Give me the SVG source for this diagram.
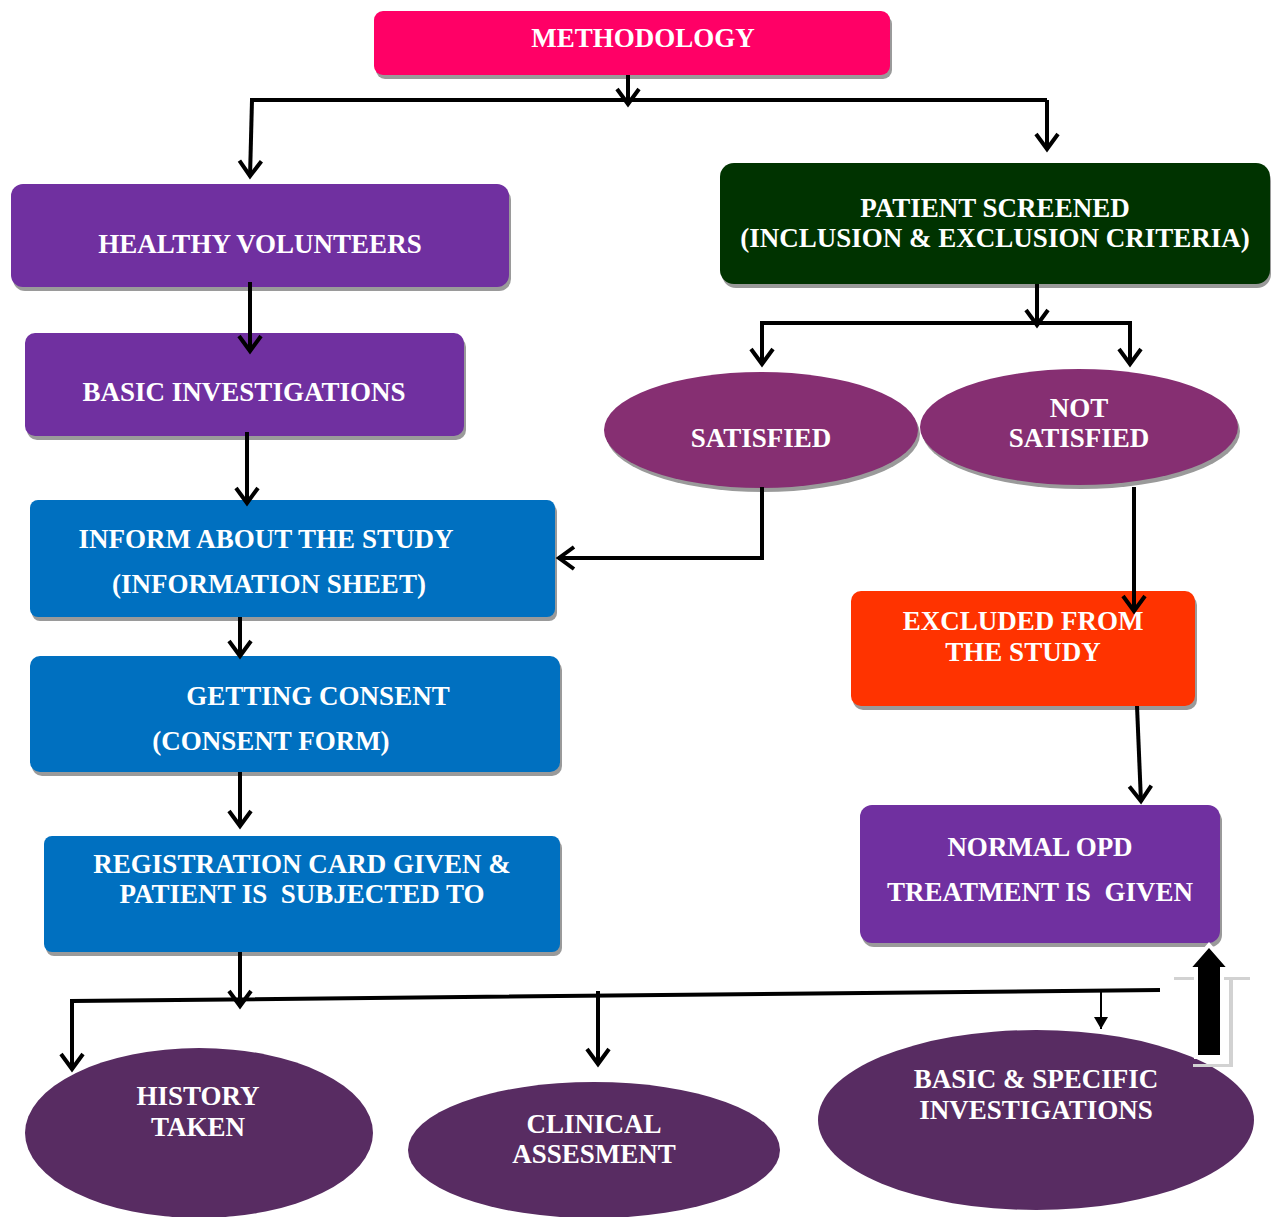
<svg xmlns="http://www.w3.org/2000/svg" width="1271" height="1217" viewBox="0 0 1271 1217">
<defs>
<marker id="chev" viewBox="0 0 28 28" refX="21" refY="14" markerWidth="28" markerHeight="28" markerUnits="userSpaceOnUse" orient="auto">
<path d="M5,3 L20,14 L5,25" fill="none" stroke="#000" stroke-width="4"/>
</marker>
<marker id="tri" viewBox="0 0 16 16" refX="14" refY="8" markerWidth="16" markerHeight="16" markerUnits="userSpaceOnUse" orient="auto">
<path d="M2,1 L2,15 L14,8 Z" fill="#000"/>
</marker>
</defs>
<style>
.sh{fill:#9a9a9a}
.t{font-family:"Liberation Serif","Times New Roman",serif;font-weight:bold;font-size:27px;fill:#fff;text-anchor:middle}
.c{fill:none;stroke:#000;stroke-width:4}
.purple{fill:#7030A0}
.blue{fill:#0070C0}
.ell1{fill:#862F72}
.ell2{fill:#582C62}
</style>
<rect width="1271" height="1217" fill="#fff"/>

<g id="methodology">
<rect class="sh" x="376" y="15" width="516" height="64" rx="9"/>
<rect x="374" y="11" width="516" height="64" rx="9" fill="#FF0066"/>
<text class="t" x="643" y="47">METHODOLOGY</text>
</g>

<g id="healthy-volunteers">
<rect class="sh" x="13" y="188" width="498" height="103" rx="12"/>
<rect class="purple" x="11" y="184" width="498" height="103" rx="12"/>
<text class="t" x="260" y="253">HEALTHY VOLUNTEERS</text>
</g>

<g id="patient-screened">
<rect class="sh" x="722" y="167" width="549" height="121" rx="14"/>
<rect x="720" y="163" width="550" height="121" rx="14" fill="#003300"/>
<text class="t" x="995" y="217">PATIENT SCREENED</text>
<text class="t" x="995" y="247">(INCLUSION &amp; EXCLUSION CRITERIA)</text>
</g>

<g id="basic-investigations">
<rect class="sh" x="27" y="337" width="439" height="103" rx="10"/>
<rect class="purple" x="25" y="333" width="439" height="103" rx="10"/>
<text class="t" x="244" y="401">BASIC INVESTIGATIONS</text>
</g>

<g id="satisfied">
<ellipse class="sh" cx="763" cy="434" rx="157" ry="58"/>
<ellipse class="ell1" cx="761" cy="430" rx="157" ry="58"/>
<text class="t" x="761" y="447">SATISFIED</text>
</g>

<g id="not-satisfied">
<ellipse class="sh" cx="1081" cy="431" rx="159" ry="58"/>
<ellipse class="ell1" cx="1079" cy="427" rx="159" ry="58"/>
<text class="t" x="1079" y="417">NOT</text>
<text class="t" x="1079" y="447">SATISFIED</text>
</g>

<g id="inform-study">
<rect class="sh" x="32" y="504" width="525" height="117" rx="8"/>
<rect class="blue" x="30" y="500" width="525" height="117" rx="8"/>
<text class="t" x="266" y="548">INFORM ABOUT THE STUDY</text>
<text class="t" x="269" y="593">(INFORMATION SHEET)</text>
</g>

<g id="getting-consent">
<rect class="sh" x="32" y="660" width="530" height="116" rx="10"/>
<rect class="blue" x="30" y="656" width="530" height="116" rx="10"/>
<text class="t" x="318" y="705">GETTING CONSENT</text>
<text class="t" x="271" y="750">(CONSENT FORM)</text>
</g>

<g id="registration">
<rect class="sh" x="46" y="840" width="516" height="116" rx="8"/>
<rect class="blue" x="44" y="836" width="516" height="116" rx="8"/>
<text class="t" x="302" y="873">REGISTRATION CARD GIVEN &amp;</text>
<text class="t" x="302" y="903" xml:space="preserve">PATIENT IS  SUBJECTED TO</text>
</g>

<g id="excluded">
<rect class="sh" x="853" y="595" width="344" height="115" rx="10"/>
<rect x="851" y="591" width="344" height="115" rx="10" fill="#FF3300"/>
<text class="t" x="1023" y="630">EXCLUDED FROM</text>
<text class="t" x="1023" y="661">THE STUDY</text>
</g>

<g id="normal-opd">
<rect class="sh" x="862" y="809" width="360" height="138" rx="12"/>
<rect class="purple" x="860" y="805" width="360" height="138" rx="12"/>
<text class="t" x="1040" y="856">NORMAL OPD</text>
<text class="t" x="1040" y="901" xml:space="preserve">TREATMENT IS  GIVEN</text>
</g>

<g id="history-taken">
<ellipse class="ell2" cx="199" cy="1133" rx="174" ry="85"/>
<text class="t" x="198" y="1105">HISTORY</text>
<text class="t" x="198" y="1136">TAKEN</text>
</g>

<g id="clinical-assesment">
<ellipse class="ell2" cx="594" cy="1150" rx="186" ry="68"/>
<text class="t" x="594" y="1133">CLINICAL</text>
<text class="t" x="594" y="1163">ASSESMENT</text>
</g>

<g id="basic-specific">
<ellipse class="ell2" cx="1036" cy="1120" rx="218" ry="90"/>
<text class="t" x="1036" y="1088">BASIC &amp; SPECIFIC</text>
<text class="t" x="1036" y="1119">INVESTIGATIONS</text>
</g>

<g id="connectors">
<path class="c" d="M628,75 V105" marker-end="url(#chev)"/>
<path class="c" d="M250,100 H1047"/>
<path class="c" d="M252,100 L250,177" marker-end="url(#chev)"/>
<path class="c" d="M1047,100 V150" marker-end="url(#chev)"/>
<path class="c" d="M250,282 V352" marker-end="url(#chev)"/>
<path class="c" d="M247,432 V504" marker-end="url(#chev)"/>
<path class="c" d="M240,617 V657" marker-end="url(#chev)"/>
<path class="c" d="M240,772 V827" marker-end="url(#chev)"/>
<path class="c" d="M240,952 V1007" marker-end="url(#chev)"/>
<path class="c" d="M72,1070 V1001 L1160,990"/>
<path class="c" d="M72,1001 V1070" marker-end="url(#chev)"/>
<path class="c" d="M598,991 V1065" marker-end="url(#chev)"/>
<path d="M1101,991 V1029" stroke="#000" stroke-width="2" fill="none" marker-end="url(#tri)"/>
<path class="c" d="M1037,284 V326" marker-end="url(#chev)"/>
<path class="c" d="M762,323 H1130"/>
<path class="c" d="M762,321 V365" marker-end="url(#chev)"/>
<path class="c" d="M1130,321 V365" marker-end="url(#chev)"/>
<path class="c" d="M762,487 V558 H558" marker-end="url(#chev)"/>
<path class="c" d="M1134,487 V612" marker-end="url(#chev)"/>
<path class="c" d="M1137,706 L1141,802" marker-end="url(#chev)"/>
<g id="block-arrow">
<path d="M1174,977 H1250 V980 H1233 V1067 H1193 V1064 H1229 V980 H1174 Z" fill="#d2d2d2"/>
<path d="M1188,969 L1209,945 L1230,969 L1222,969 L1222,1057 L1196,1057 L1196,969 Z" fill="#000" stroke="#fff" stroke-width="4" stroke-linejoin="miter"/>
</g>
</g>
</svg>
